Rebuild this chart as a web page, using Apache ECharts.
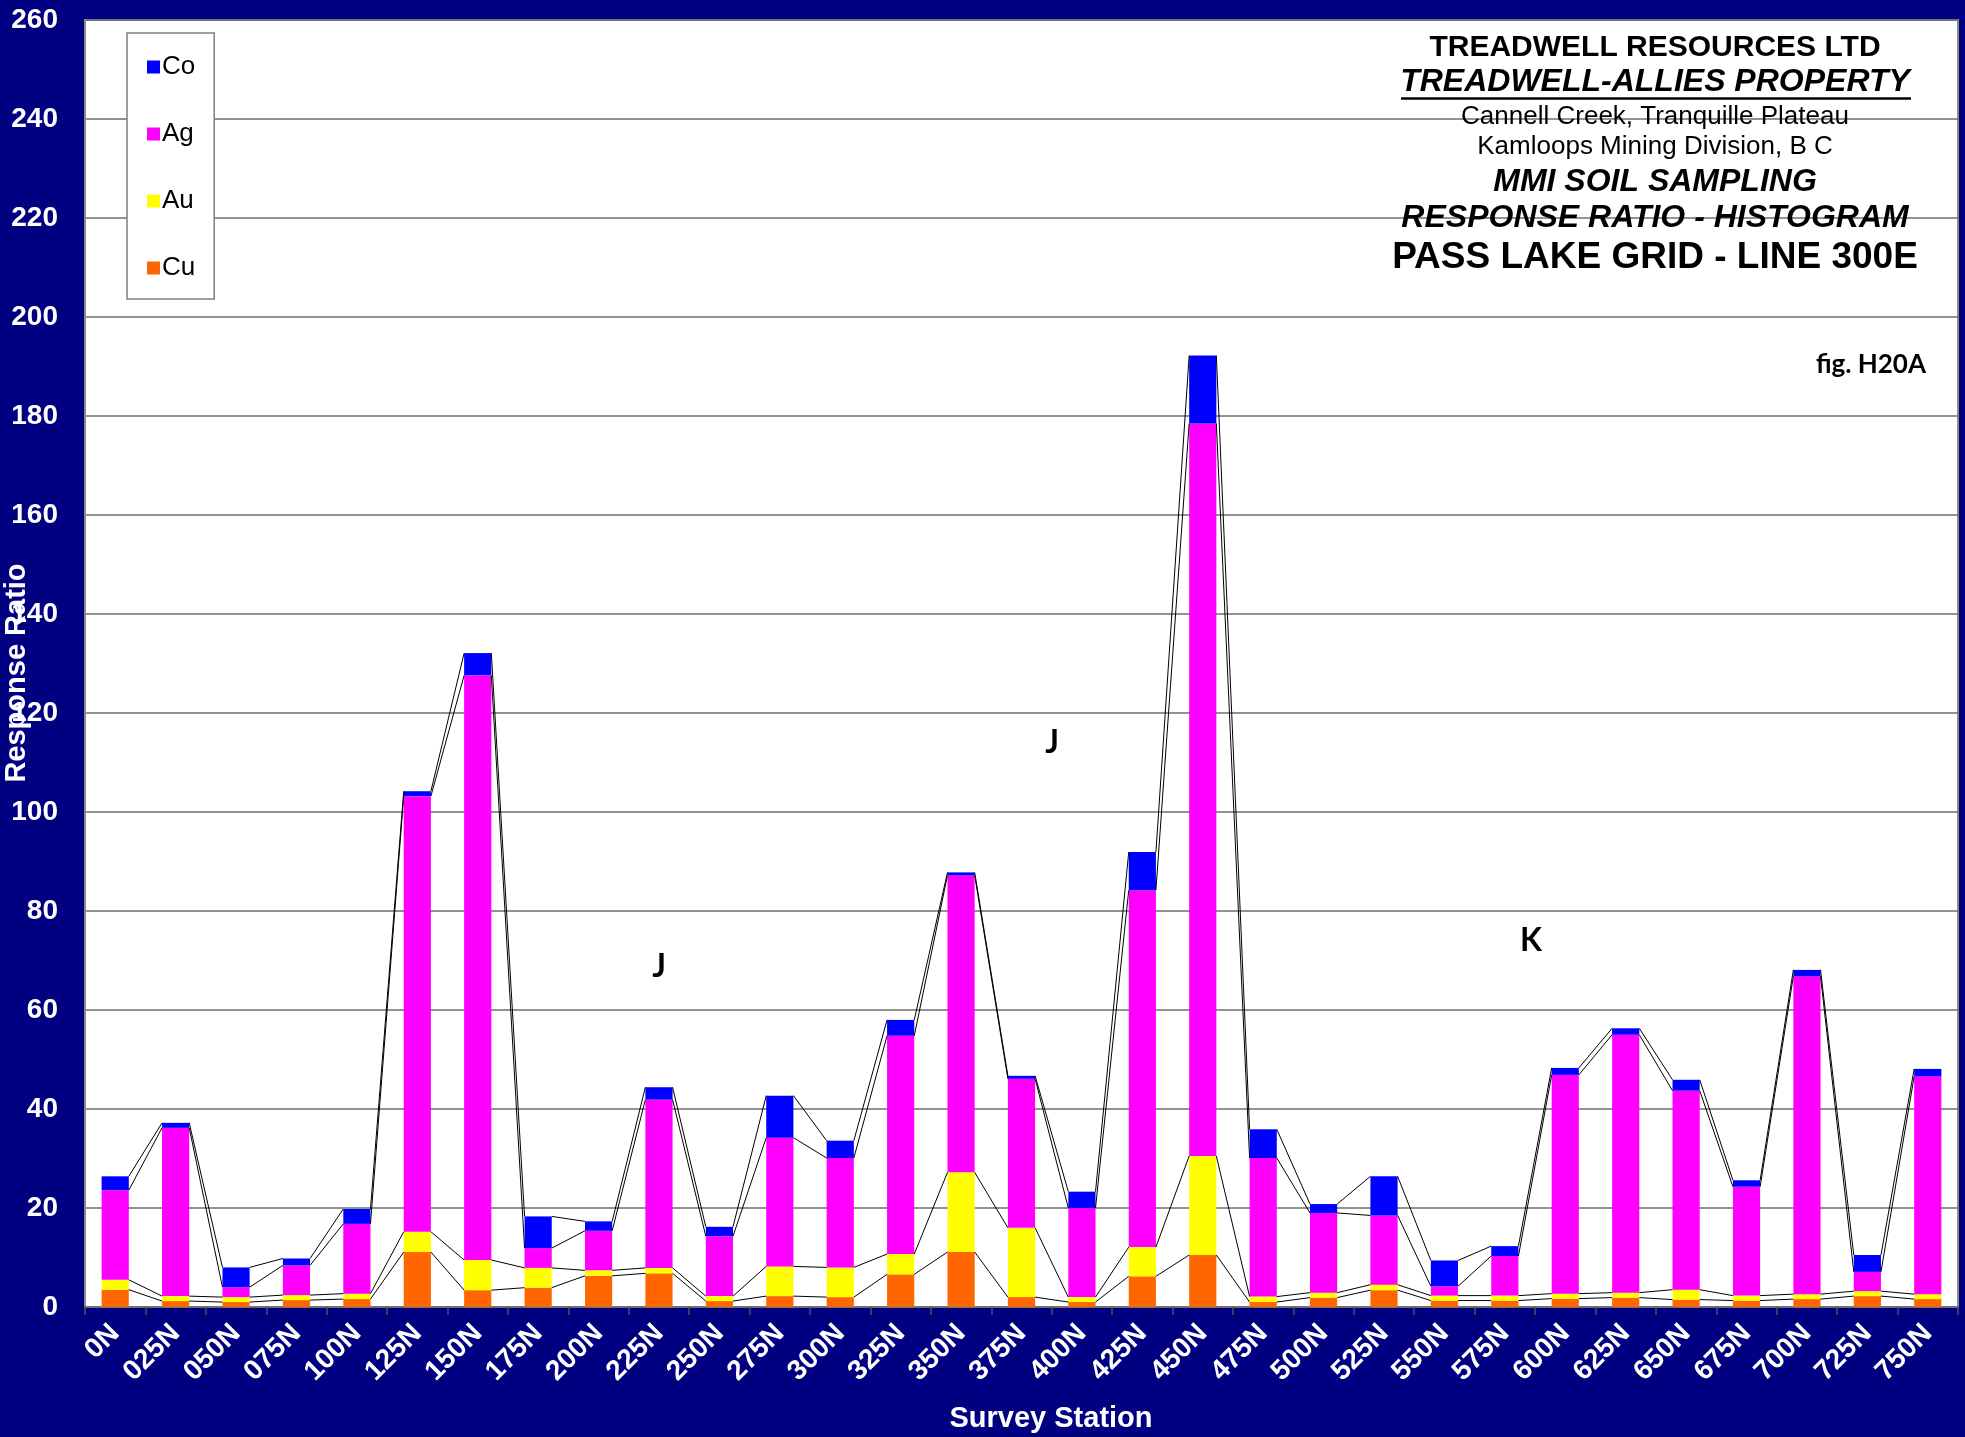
<!DOCTYPE html>
<html><head><meta charset="utf-8">
<script src="https://cdn.jsdelivr.net/npm/echarts@6/dist/echarts.min.js"></script>
<style>html,body{margin:0;padding:0;background:#000080;}#c{width:1965px;height:1437px;}</style>
</head><body><div id="c"></div>
<script>
// ---- data ----
const stations = ['0N','025N','050N','075N','100N','125N','150N','175N','200N','225N','250N','275N','300N','325N','350N','375N','400N','425N','450N','475N','500N','525N','550N','575N','600N','625N','650N','675N','700N','725N','750N'];
const cu = [3.5,1.2,1.0,1.4,1.6,11.1,3.4,3.9,6.3,6.8,1.2,2.2,2.0,6.6,11.1,2.0,1.0,6.2,10.5,1.0,1.9,3.4,1.3,1.3,1.7,1.9,1.5,1.3,1.6,2.2,1.6];
const au = [2.0,1.0,1.0,1.0,1.1,4.1,6.1,4.0,1.1,1.1,1.0,6.0,6.0,4.1,16.1,14.0,1.0,5.9,20.0,1.1,1.0,1.1,1.0,1.0,1.0,1.0,2.0,1.0,1.0,1.0,1.0];
const ag = [18.1,34.0,2.0,6.0,14.1,88.0,118.1,4.0,8.0,34.0,12.1,26.0,22.1,44.1,60.0,30.1,18.0,72.1,148.0,28.0,16.1,14.0,1.9,8.0,44.2,52.1,40.2,22.0,64.2,3.9,44.0];
const co = [2.8,1.0,4.0,1.4,3.0,1.0,4.5,6.4,1.9,2.5,1.9,8.5,3.5,3.2,0.6,0.6,3.3,7.7,13.7,5.8,1.8,7.9,5.2,2.0,1.4,1.3,2.2,1.3,1.3,3.4,1.5];
const yMin = 0, yMax = 260, yStep = 20;

// ---- layout / style ----
const FONT = "'Liberation Sans', Arial, sans-serif";
const BAR_FRAC = 0.45;
const colors = {Cu:'#FF6600', Au:'#FFFF00', Ag:'#FF00FF', Co:'#0000FF'};

const cum = (arrs) => arrs[0].map((_, i) => arrs.reduce((s, a) => s + a[i], 0));
const levels = [cum([cu]), cum([cu, au]), cum([cu, au, ag]), cum([cu, au, ag, co])];

function seriesLines(params, api) {
  const i = api.value(0);
  const hw = api.size([1, 0])[0] * BAR_FRAC / 2;
  const children = levels.map(lv => {
    const a = api.coord([i, lv[i]]);
    const b = api.coord([i + 1, lv[i + 1]]);
    return {type: 'line', shape: {x1: a[0] + hw, y1: a[1], x2: b[0] - hw, y2: b[1]},
            style: {stroke: '#000', lineWidth: 1}};
  });
  return {type: 'group', children};
}

const chart = echarts.init(document.getElementById('c'), null, {renderer: 'canvas'});
const barSeries = (name, data) => ({
  name, type: 'bar', stack: 'total', data, barWidth: (BAR_FRAC * 100) + '%',
  itemStyle: {color: colors[name]}, z: 2
});

const titleLines = [
  {t: 'TREADWELL RESOURCES LTD', y: 48, f: 'bold 30px ' + FONT},
  {t: 'TREADWELL-ALLIES PROPERTY', y: 82, f: 'italic bold 32px ' + FONT},
  {t: 'Cannell Creek, Tranquille Plateau', y: 117, f: '26px ' + FONT},
  {t: 'Kamloops Mining Division, B C', y: 147, f: '26px ' + FONT},
  {t: 'MMI SOIL SAMPLING', y: 182, f: 'italic bold 32px ' + FONT},
  {t: 'RESPONSE RATIO - HISTOGRAM', y: 218, f: 'italic bold 32px ' + FONT},
  {t: 'PASS LAKE GRID - LINE 300E', y: 258, f: 'bold 37px ' + FONT}
];
const graphics = titleLines.map(l => ({
  type: 'text', x: 1655, y: l.y, z: 10,
  style: {text: l.t, font: l.f, fill: '#000', align: 'center', verticalAlign: 'middle'}
}));
graphics.push({type: 'line', z: 10, shape: {x1: 1401, y1: 98.5, x2: 1911, y2: 98.5}, style: {stroke: '#000', lineWidth: 2.5}});
graphics.push({type: 'text', x: 1926, y: 365, z: 10, style: {text: 'fig. H20A', font: 'bold 26px Lato, sans-serif', fill: '#000', align: 'right', verticalAlign: 'middle'}});
[['J', 659, 967], ['J', 1052, 743], ['K', 1531, 941]].forEach(([t, x, y]) => graphics.push({
  type: 'text', x, y, z: 10, style: {text: t, font: 'bold 32px Lato, sans-serif', fill: '#000', align: 'center', verticalAlign: 'middle'}
}));
graphics.push({type: 'text', x: 17, y: 673, rotation: Math.PI / 2, z: 10,
  style: {text: 'Response Ratio', font: 'bold 29px ' + FONT, fill: '#fff', align: 'center', verticalAlign: 'middle'}});
graphics.push({type: 'text', x: 1051, y: 1419, z: 10,
  style: {text: 'Survey Station', font: 'bold 29px ' + FONT, fill: '#fff', align: 'center', verticalAlign: 'middle'}});

chart.setOption({
  backgroundColor: '#000080',
  animation: false,
  grid: {left: 85, right: 7, top: 20, bottom: 130, show: true, backgroundColor: '#fff', borderColor: '#8a8a8a', borderWidth: 2},
  legend: {
    data: ['Co', 'Ag', 'Au', 'Cu'], orient: 'vertical', left: 127, top: 33,
    backgroundColor: '#fff', borderColor: '#808080', borderWidth: 1.5,
    padding: [21, 19, 18, 20], itemGap: 41, itemWidth: 13, itemHeight: 13, icon: 'rect',
    textStyle: {fontFamily: FONT, fontSize: 26, color: '#000', lineHeight: 26, padding: [0, 0, 0, -3]}
  },
  xAxis: {
    type: 'category', data: stations,
    axisLine: {lineStyle: {color: '#707070', width: 2}},
    axisTick: {show: true, alignWithLabel: false, length: 8, lineStyle: {color: '#505050', width: 1.5}},
    axisLabel: {rotate: 45, margin: 22, color: '#fff', fontFamily: FONT, fontWeight: 'bold', fontSize: 28, interval: 0},
    splitLine: {show: false}
  },
  yAxis: {
    type: 'value', min: yMin, max: yMax, interval: yStep,
    axisLine: {show: true, lineStyle: {color: '#8a8a8a', width: 2}},
    axisTick: {show: false},
    axisLabel: {color: '#fff', fontFamily: FONT, fontWeight: 'bold', fontSize: 28, margin: 27},
    splitLine: {lineStyle: {color: '#6e6e6e', width: 1.5}}
  },
  series: [
    barSeries('Cu', cu), barSeries('Au', au), barSeries('Ag', ag), barSeries('Co', co),
    {type: 'custom', name: 'series lines', renderItem: seriesLines, z: 3, silent: true,
     data: stations.slice(0, -1).map((s, i) => [i, levels[3][i]])}
  ],
  graphic: graphics
});
</script></body></html>
